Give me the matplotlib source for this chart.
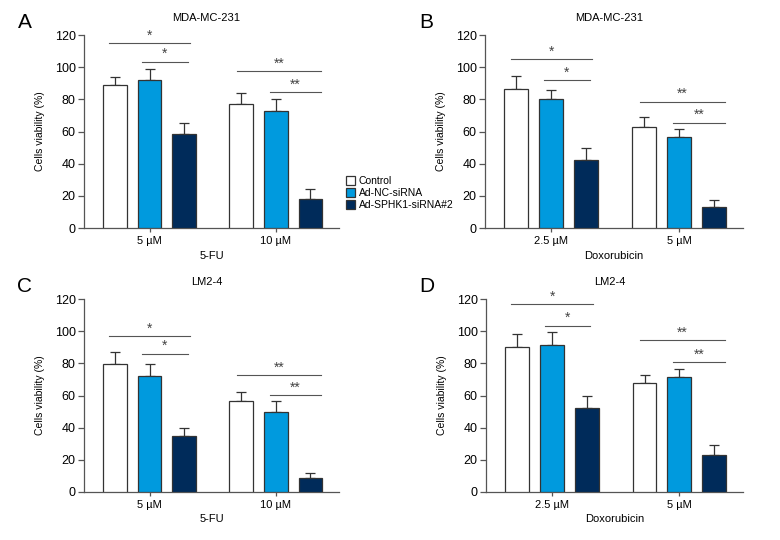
import matplotlib
matplotlib.use('Agg')
import matplotlib.pyplot as plt
from matplotlib.patches import Patch

plt.rcParams['font.family'] = ['Liberation Sans Narrow', 'Liberation Sans', 'DejaVu Sans']

series = ['Control', 'Ad-NC-siRNA', 'Ad-SPHK1-siRNA#2']
colors = ['#ffffff', '#009ade', '#002b5a']

# panel A: MDA-MC-231, 5-FU
doses_A = ['5 µM', '10 µM']
ctrl_A = [89, 77]
ctrl_A_err = [5, 7]
nc_A = [92, 73]
nc_A_err = [7, 7]
sphk_A = [58.5, 18]
sphk_A_err = [7, 6]
sig_outer_A = [115, 97.5]
sig_inner_A = [103.5, 84.6]

# panel B: MDA-MC-231, Doxorubicin
doses_B = ['2.5 µM', '5 µM']
ctrl_B = [86.5, 62.5]
ctrl_B_err = [8, 6.5]
nc_B = [80, 56.5]
nc_B_err = [5.5, 5]
sphk_B = [42, 13]
sphk_B_err = [7.5, 4.5]
sig_outer_B = [105, 78.5]
sig_inner_B = [92, 65.5]

# panel C: LM2-4, 5-FU
doses_C = ['5 µM', '10 µM']
ctrl_C = [79.5, 56.5]
ctrl_C_err = [7.5, 5.5]
nc_C = [72.3, 49.6]
nc_C_err = [7.5, 7]
sphk_C = [34.6, 9]
sphk_C_err = [5.5, 3]
sig_outer_C = [97, 72.7]
sig_inner_C = [86, 60.2]

# panel D: LM2-4, Doxorubicin
doses_D = ['2.5 µM', '5 µM']
ctrl_D = [90, 67.7]
ctrl_D_err = [8.5, 5.2]
nc_D = [91.5, 71.5]
nc_D_err = [8, 5]
sphk_D = [52.5, 23]
sphk_D_err = [7, 6.5]
sig_outer_D = [117, 94.4]
sig_inner_D = [103.5, 80.8]

sig_labels = ['*', '**']

W, H = 780, 540
fig = plt.figure(figsize=(7.8, 5.4), dpi=100)

spine_col = '#555555'
edge_col = '#333333'


def panel(rect, letter, title, doses, drug, vals, errs, sig_outer, sig_inner):
    l, t, r, b = rect
    ax = fig.add_axes([l / W, 1 - b / H, (r - l) / W, (b - t) / H])
    offs = [-0.274, 0, 0.274]
    for k in range(3):
        xs = [g + offs[k] for g in range(len(doses))]
        ax.bar(xs, vals[k], width=0.187, color=colors[k], edgecolor=edge_col,
               linewidth=0.9, zorder=3)
        ax.errorbar(xs, vals[k], yerr=[[0] * len(xs), errs[k]], fmt='none',
                    ecolor=edge_col, elinewidth=0.9, capsize=3.4,
                    capthick=0.9, zorder=2)
    spans_outer = [(-0.32, 0.32), (-0.31, 0.36)]
    spans_inner = [(-0.06, 0.30), (-0.05, 0.36)]
    for g in range(len(doses)):
        for h, sp in ((sig_outer[g], spans_outer[g]), (sig_inner[g], spans_inner[g])):
            x0, x1 = g + sp[0], g + sp[1]
            ax.plot([x0, x1], [h, h], color='#555555', lw=0.8, clip_on=False)
            ax.text((x0 + x1) / 2, h + 0.3, sig_labels[g], ha='center',
                    va='bottom', fontsize=10, color='#444444')
    ax.set_xlim(-0.52, 1.5)
    ax.set_ylim(0, 120)
    ax.set_yticks(range(0, 121, 20))
    ax.set_xticks(range(len(doses)))
    ax.set_xticklabels(doses)
    ax.set_xlabel(drug, fontsize=8, labelpad=3)
    ax.set_ylabel('Cells viability (%)', fontsize=7.5, labelpad=7)
    ax.tick_params(axis='y', labelsize=9, length=4, width=0.9, color=spine_col, pad=2)
    ax.tick_params(axis='x', labelsize=8, length=3, width=0.9, color=spine_col, pad=3)
    for s in ('top', 'right'):
        ax.spines[s].set_visible(False)
    for s in ('left', 'bottom'):
        ax.spines[s].set_color(spine_col)
        ax.spines[s].set_linewidth(0.9)
    ax.text(0.48, 1.088, title, transform=ax.transAxes, ha='center',
            va='center', fontsize=8)
    fig.text((l - 59) / W, 1 - (t - 13) / H, letter, ha='center', va='center',
             fontsize=15)
    return ax


panel((84, 35, 339, 228), 'A', 'MDA-MC-231', doses_A, '5-FU',
      [ctrl_A, nc_A, sphk_A], [ctrl_A_err, nc_A_err, sphk_A_err],
      sig_outer_A, sig_inner_A)
panel((485, 35, 743, 228), 'B', 'MDA-MC-231', doses_B, 'Doxorubicin',
      [ctrl_B, nc_B, sphk_B], [ctrl_B_err, nc_B_err, sphk_B_err],
      sig_outer_B, sig_inner_B)
panel((84, 299, 339, 492), 'C', 'LM2-4', doses_C, '5-FU',
      [ctrl_C, nc_C, sphk_C], [ctrl_C_err, nc_C_err, sphk_C_err],
      sig_outer_C, sig_inner_C)
panel((486, 299, 743, 492), 'D', 'LM2-4', doses_D, 'Doxorubicin',
      [ctrl_D, nc_D, sphk_D], [ctrl_D_err, nc_D_err, sphk_D_err],
      sig_outer_D, sig_inner_D)

handles = [Patch(facecolor=c, edgecolor=edge_col, linewidth=0.9) for c in colors]
fig.legend(handles, series, loc='center left',
           bbox_to_anchor=(346 / W, 1 - 193 / H), frameon=False, fontsize=7.5,
           handlelength=0.9, handleheight=0.9, handletextpad=0.3,
           labelspacing=0.2, borderpad=0, borderaxespad=0)

fig.savefig('out.png', dpi=100, facecolor='white')
